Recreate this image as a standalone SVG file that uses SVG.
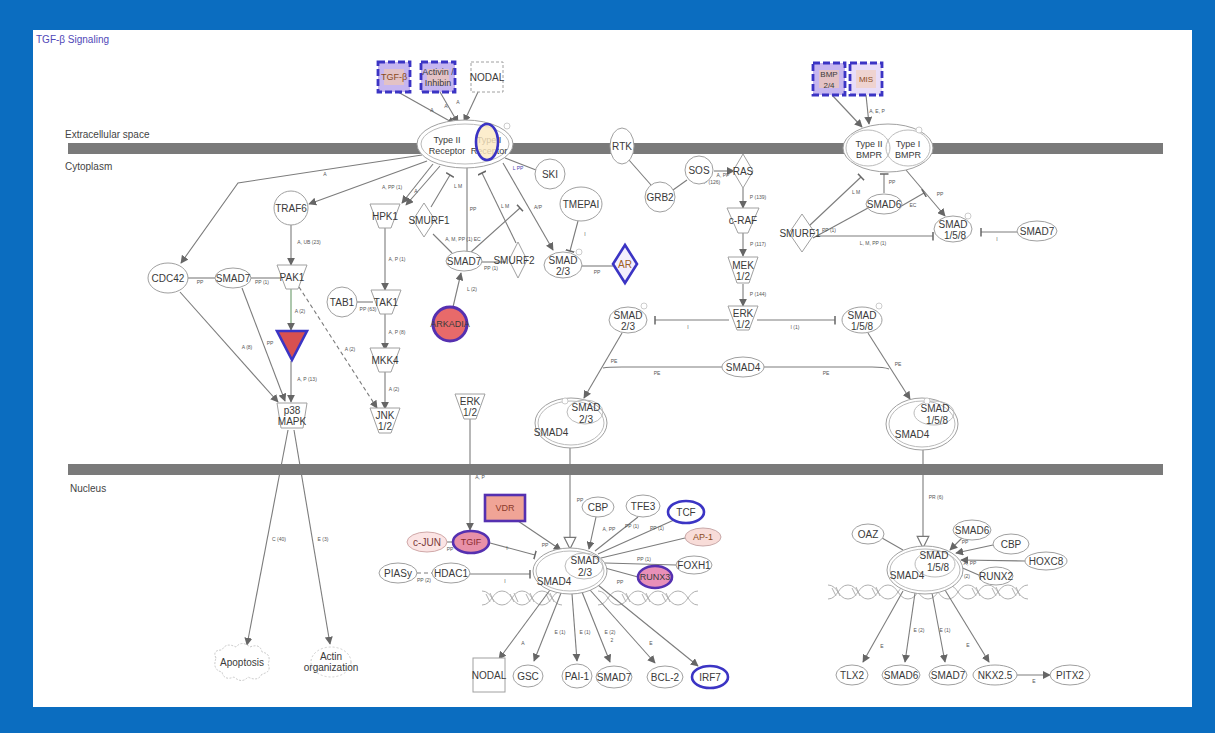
<svg xmlns="http://www.w3.org/2000/svg" width="1215" height="733" viewBox="0 0 1215 733">
<defs>
<style>
.t{font-family:"Liberation Sans","DejaVu Sans",Arial,sans-serif;font-size:10px;fill:#3a3a3a;text-anchor:middle}
.s{font-size:9px}
.l{font-family:"Liberation Sans","DejaVu Sans",Arial,sans-serif;font-size:5px;fill:#555;text-anchor:middle}
.n{fill:#fff;stroke:#a0a0a0;stroke-width:1}
.e{fill:none;stroke:#7c7c7c;stroke-width:1.1}
.a{marker-end:url(#arr)}
.b{marker-end:url(#bar)}
.o{marker-end:url(#open)}
.d{stroke-dasharray:4 3}
.hl{stroke:#3b34c4;stroke-width:2.6}
.gf{fill:#c6b6f0;stroke:#3b34c4;stroke-width:2.8;stroke-dasharray:7 3}
.hx{fill:none;stroke:#b0b0b0;stroke-width:1}
.pm{fill:#fff;stroke:#c0c0c0;stroke-width:0.8}
</style>
<marker id="arr" viewBox="0 0 10 10" refX="9" refY="5" markerWidth="8" markerHeight="8" markerUnits="userSpaceOnUse" orient="auto"><path d="M0,0L10,5L0,10z" fill="#666"/></marker>
<marker id="bar" viewBox="0 0 4 12" refX="2" refY="6" markerWidth="3" markerHeight="9" markerUnits="userSpaceOnUse" orient="auto"><rect x="1" y="0" width="2" height="12" fill="#666"/></marker>
<marker id="open" viewBox="0 0 12 12" refX="11" refY="6" markerWidth="14" markerHeight="14" markerUnits="userSpaceOnUse" orient="auto"><path d="M1,1L11,6L1,11z" fill="#fff" stroke="#777"/></marker>
</defs>

<rect width="1215" height="733" fill="#0b6dc0"/>
<rect x="33" y="30" width="1159" height="677" fill="#fff"/>
<text x="36" y="43" style="font-family:'Liberation Sans','DejaVu Sans',sans-serif;font-size:10px;fill:#5048b8">TGF-β Signaling</text>

<g id="compartments">
<rect x="68" y="143" width="1095" height="11" fill="#7a7a7a"/>
<rect x="68" y="464" width="1095" height="11" fill="#7a7a7a"/>
<text x="65" y="138" style="font-family:'Liberation Sans','DejaVu Sans',sans-serif;font-size:10px;fill:#444">Extracellular space</text>
<text x="65" y="170" style="font-family:'Liberation Sans','DejaVu Sans',sans-serif;font-size:10px;fill:#444">Cytoplasm</text>
<text x="70" y="492" style="font-family:'Liberation Sans','DejaVu Sans',sans-serif;font-size:10px;fill:#444">Nucleus</text>
</g>

<g id="dna">
<path class="hx" d="M482,591 C492,591 492,605 502,605 S512,591 522,591 S532,605 542,605 S552,591 562,591"/>
<path class="hx" d="M482,605 C492,605 492,591 502,591 S512,605 522,605 S532,591 542,591 S552,605 562,605"/>
<path class="hx" d="M486,594L490,602M490,593L494,602M510,594L514,602M514,593L518,602M526,594L530,602M530,593L534,602M546,594L550,602M550,593L554,602"/>
<path class="hx" d="M598,591 C608,591 608,605 618,605 S628,591 638,591 S648,605 658,605 S668,591 678,591 S688,605 698,605"/>
<path class="hx" d="M598,605 C608,605 608,591 618,591 S628,605 638,605 S648,591 658,591 S668,605 678,605 S688,591 698,591"/>
<path class="hx" d="M622,594L626,602M626,593L630,602M642,594L646,602M646,593L650,602M662,594L666,602M666,593L670,602"/>
<path class="hx" d="M828,585 C838,585 838,599 848,599 S858,585 868,585 S878,599 888,599 S898,585 908,585 S918,599 928,599 S938,585 948,585 S958,599 968,599 S978,585 988,585 S998,599 1008,599 S1018,585 1028,585"/>
<path class="hx" d="M828,599 C838,599 838,585 848,585 S858,599 868,599 S878,585 888,585 S898,599 908,599 S918,585 928,585 S938,599 948,599 S958,585 968,585 S978,599 988,599 S998,585 1008,585 S1018,599 1028,599"/>
<path class="hx" d="M832,588L836,596M836,587L840,596M852,588L856,596M856,587L860,596M872,588L876,596M876,587L880,596M972,588L976,596M976,587L980,596M992,588L996,596M996,587L1000,596M1012,588L1016,596M1016,587L1020,596"/>
</g>

<g id="connectors">
<path class="e a" d="M398,92 L455,124"/>
<path class="e a" d="M440,92 L458,123"/>
<path class="e a" d="M478,92 L464,122"/>
<text class="l" x="432" y="112">A</text><text class="l" x="446" y="108">A</text><text class="l" x="458" y="104">A</text>
<path class="e a" d="M422,155 L238,183 L181,263"/>
<text class="l" x="325" y="176">A</text>
<path class="e a" d="M427,161 L309,204"/>
<path class="e a" d="M433,164 L402,203"/>
<path class="e a" d="M440,166 L406,205"/>
<text class="l" x="392" y="189">A, PP (1)</text><text class="l" x="416" y="193">A</text>
<path class="e b" d="M431,207 L450,175"/>
<text class="l" x="458" y="188">L M</text>
<path class="e" d="M467,167 L467,252"/>
<text class="l" x="473" y="211">PP</text>
<path class="e" d="M433,234 L452,253"/>
<text class="l" x="463" y="241">A, M, PP (1) EC</text>
<path class="e b" d="M471,252 L520,208"/>
<path class="e b" d="M516,243 L482,173"/>
<text class="l" x="505" y="208">L M</text>
<path class="e a" d="M503,163 L553,250"/>
<text class="l" x="538" y="209">A/P</text>
<path class="e" d="M505,158 L536,170"/>
<text class="l" x="518" y="170" style="fill:#4a40b0">L PP</text>
<path class="e b" d="M578,221 L570,251"/>
<text class="l" x="585" y="236">I</text>
<path class="e" d="M582,266 L613,266"/>
<text class="l" x="597" y="274">PP</text>
<path class="e" d="M482,262 L506,262"/>
<text class="l" x="491" y="270">PP (1)</text>
<path class="e a" d="M453,307 L461,273"/>
<text class="l" x="472" y="291">L (2)</text>
<path class="e a" d="M291,225 L291,265"/>
<text class="l" x="309" y="244">A, UB (23)</text>
<path class="e" d="M188,278 L215,278"/>
<path class="e" d="M251,278 L280,278"/>
<text class="l" x="200" y="284">PP</text><text class="l" x="262" y="284">PP (1)</text>
<path class="e a" d="M291,288 L291,330" style="stroke:#6a9a6a"/>
<text class="l" x="300" y="313">A (2)</text>
<path class="e a" d="M291,361 L291,402"/>
<text class="l" x="307" y="381">A, P (13)</text>
<path class="e a" d="M180,292 L278,402"/>
<text class="l" x="247" y="349">A (8)</text>
<path class="e a" d="M242,288 L285,401"/>
<text class="l" x="270" y="345">PP</text>
<path class="e a d" d="M299,287 L377,408"/>
<text class="l" x="350" y="351">A (2)</text>
<path class="e a" d="M385,228 L385,290"/>
<text class="l" x="397" y="261">A, P (1)</text>
<path class="e" d="M357,302 L373,302"/>
<text class="l" x="368" y="311">PP (63)</text>
<path class="e a" d="M385,314 L385,350"/>
<text class="l" x="397" y="334">A, P (8)</text>
<path class="e a" d="M385,371 L385,409"/>
<text class="l" x="394" y="391">A (2)</text>
<path class="e a" d="M288,430 L247,645"/>
<text class="l" x="279" y="541">C (40)</text>
<path class="e a" d="M294,430 L330,644"/>
<text class="l" x="323" y="541">E (3)</text>
<path class="e" d="M629,160 L651,185"/>
<path class="e" d="M673,190 L687,180"/>
<path class="e a" d="M714,171 L734,171"/>
<text class="l" x="723" y="177">A, PP</text><text class="l" x="712" y="184">P (126)</text>
<path class="e a" d="M743,188 L743,208"/>
<text class="l" x="758" y="199">P (139)</text>
<path class="e a" d="M743,233 L743,256"/>
<text class="l" x="758" y="246">P (117)</text>
<path class="e a" d="M743,284 L743,306"/>
<text class="l" x="758" y="296">P (144)</text>
<path class="e b" d="M729,320 L655,320"/>
<text class="l" x="688" y="329">I</text>
<path class="e b" d="M757,320 L835,320"/>
<text class="l" x="795" y="329">I (1)</text>
<path class="e a" d="M622,333 L584,398"/>
<path class="e a" d="M868,333 L910,399"/>
<path class="e" d="M603,368 Q608,367 622,367 L722,367"/>
<path class="e" d="M764,367 L872,367 Q884,367 889,369"/>
<text class="l" x="614" y="363">PE</text><text class="l" x="657" y="375">PE</text>
<text class="l" x="826" y="375">PE</text><text class="l" x="898" y="366">PE</text>
<path class="e a" d="M832,95 L862,127"/>
<path class="e a" d="M866,95 L869,124"/>
<text class="l" x="877" y="113">A, E, P</text>
<path class="e b" d="M884,193 L884,174"/>
<text class="l" x="892" y="184">PP</text>
<path class="e a" d="M906,170 L945,216"/>
<text class="l" x="940" y="196">PP</text>
<path class="e b" d="M809,226 L861,177"/>
<path class="e" d="M813,238 L868,208"/>
<text class="l" x="856" y="194">L M</text>
<path class="e b" d="M898,208 L924,193"/>
<text class="l" x="913" y="207">EC</text>
<path class="e b" d="M816,236 L933,236"/>
<text class="l" x="829" y="232">PP (1)</text><text class="l" x="873" y="245">L, M, PP (1)</text>
<path class="e b" d="M1018,232 L981,232"/>
<text class="l" x="997" y="241">I</text>
<path class="e o" d="M570,448 L570,549"/>
<path class="e o" d="M923,449 L923,548"/>
<text class="l" x="936" y="499">PR (6)</text>
<path class="e a" d="M470,419 L470,530"/>
<text class="l" x="480" y="479">A, P</text>
<path class="e a" d="M518,521 L561,550"/>
<text class="l" x="545" y="547">PP</text>
<path class="e a" d="M596,517 L589,549"/>
<text class="l" x="580" y="502">PP</text>
<path class="e" d="M638,517 L595,551"/>
<path class="e" d="M674,520 L598,554"/>
<path class="e" d="M685,538 L601,558"/>
<path class="e" d="M676,565 L605,563"/>
<path class="e" d="M638,577 L605,568"/>
<text class="l" x="609" y="531">A, PP</text><text class="l" x="632" y="528">PP (1)</text><text class="l" x="657" y="530">PP (1)</text>
<text class="l" x="644" y="561">PP (1)</text><text class="l" x="620" y="584">PP</text>
<path class="e b" d="M490,543 L535,555"/>
<text class="l" x="507" y="550">I</text>
<path class="e b" d="M470,574 L530,574"/>
<text class="l" x="505" y="583">I</text>
<path class="e" d="M447,542 L453,542"/>
<text class="l" x="450" y="551">PP</text>
<path class="e d" d="M417,573 L432,573"/>
<text class="l" x="424" y="582">PP (2)</text>
<path class="e a" d="M550,590 L499,659"/>
<path class="e a" d="M561,593 L534,661"/>
<path class="e a" d="M572,594 L577,661"/>
<path class="e a" d="M582,592 L610,662"/>
<path class="e a" d="M590,590 L655,663"/>
<path class="e a" d="M598,585 L698,666"/>
<text class="l" x="523" y="645">A</text><text class="l" x="560" y="634">E (1)</text><text class="l" x="585" y="634">E (1)</text>
<text class="l" x="610" y="634">E (2)</text><text class="l" x="612" y="642">2</text><text class="l" x="651" y="645">E</text>
<path class="e" d="M882,538 L903,550"/>
<path class="e a" d="M963,537 L950,550"/>
<text class="l" x="965" y="544">PP</text>
<path class="e a" d="M993,545 L956,553"/>
<path class="e a" d="M1025,561 L961,560"/>
<text class="l" x="970" y="565">A, PP</text>
<path class="e" d="M981,576 L958,566"/>
<text class="l" x="963" y="578">PP (2)</text>
<path class="e a" d="M903,591 L863,662"/>
<path class="e a" d="M915,593 L905,662"/>
<path class="e a" d="M932,593 L945,662"/>
<path class="e a" d="M945,590 L989,662"/>
<text class="l" x="882" y="648">E</text><text class="l" x="919" y="632">E (2)</text><text class="l" x="945" y="632">E (1)</text><text class="l" x="968" y="647">E</text>
<path class="e a" d="M1017,675 L1050,675"/>
<text class="l" x="1034" y="683">E</text>
</g>

<g id="n-tgfb" transform="translate(394,77)"><rect x="-16" y="-15" width="32" height="30" class="gf"/><rect x="-10" y="-8" width="20" height="16" fill="#f6c9a8" opacity="0.6"/><text class="t s" y="3" style="fill:#8a4a20">TGF-β</text></g>
<g id="n-activin" transform="translate(438,77)"><rect x="-17" y="-15" width="34" height="30" class="gf"/><rect x="-11" y="-8" width="22" height="16" fill="#f6c9a8" opacity="0.6"/><text class="t s" y="-2">Activin /</text><text class="t s" y="9">Inhibin</text></g>
<g id="n-nodal-top" transform="translate(487,77)"><rect x="-16" y="-15" width="32" height="30" class="n" stroke-dasharray="3 2"/><text class="t" y="4">NODAL</text></g>
<g id="n-bmp24" transform="translate(829,79)"><rect x="-16" y="-16" width="32" height="32" class="gf"/><rect x="-10" y="-9" width="20" height="18" fill="#f6c9a8" opacity="0.6"/><text class="t" y="-2" style="font-size:8px">BMP</text><text class="t" y="9" style="font-size:8px">2/4</text></g>
<g id="n-mis" transform="translate(866,79)"><rect x="-16" y="-16" width="32" height="32" class="gf" style="fill:#e8ddf8"/><rect x="-10" y="-9" width="20" height="18" fill="#f6c9a8" opacity="0.5"/><text class="t" y="3" style="font-size:8px;fill:#8a4a20">MIS</text></g>

<g id="n-receptor" transform="translate(465,144)">
<ellipse rx="48" ry="24" class="n"/><ellipse rx="44" ry="20" fill="none" stroke="#bbb"/>
<text class="t s" x="-18" y="-1">Type II</text><text class="t s" x="-18" y="10">Receptor</text>
<text class="t s" x="24" y="-1">Type I</text><text class="t s" x="24" y="10">Receptor</text>
<ellipse cx="22" cy="-2" rx="11" ry="18" fill="#fbe9c0" fill-opacity="0.8" class="hl"/>
<circle cx="42" cy="-18" r="3" class="pm"/>
</g>
<g id="n-rtk" transform="translate(622,146)"><ellipse rx="12" ry="18" class="n"/><text class="t" y="4">RTK</text></g>
<g id="n-bmpr" transform="translate(888,148)">
<ellipse rx="45" ry="24" class="n"/><ellipse cx="-20" rx="22" ry="18" fill="none" stroke="#bbb"/><ellipse cx="20" rx="22" ry="18" fill="none" stroke="#bbb"/>
<text class="t s" x="-19" y="-1">Type II</text><text class="t s" x="-19" y="10">BMPR</text>
<text class="t s" x="20" y="-1">Type I</text><text class="t s" x="20" y="10">BMPR</text>
<circle cx="31" cy="-18" r="3" class="pm"/>
</g>

<g id="n-ski" transform="translate(550,174)"><circle r="15" class="n"/><text class="t" y="4">SKI</text></g>
<g id="n-tmepai" transform="translate(581,204)"><ellipse rx="21" ry="17" class="n"/><text class="t" y="4">TMEPAI</text></g>
<g id="n-grb2" transform="translate(660,197)"><circle r="15" class="n"/><text class="t" y="4">GRB2</text></g>
<g id="n-sos" transform="translate(699,170)"><circle r="14" class="n"/><text class="t" y="4">SOS</text></g>
<g id="n-ras" transform="translate(743,171)"><path d="M0,-17L10,0L0,17L-10,0Z" class="n"/><text class="t" y="4">RAS</text></g>
<g id="n-craf" transform="translate(743,220)"><path d="M-16,-12H16L5,13H-5Z" class="n"/><text class="t" y="4">c-RAF</text></g>
<g id="n-mek" transform="translate(743,270)"><path d="M-15,-13H15L6,13H-6Z" class="n"/><text class="t" y="-1">MEK</text><text class="t" y="10">1/2</text></g>
<g id="n-erk" transform="translate(743,318)"><path d="M-15,-12H15L6,12H-6Z" class="n"/><text class="t" y="-1">ERK</text><text class="t" y="10">1/2</text></g>
<g id="n-smad23-mid" transform="translate(628,320)"><ellipse rx="19" ry="13" class="n"/><text class="t" y="-1">SMAD</text><text class="t" y="10">2/3</text><circle cx="16" cy="-14" r="3" class="pm"/></g>
<g id="n-smad158-mid" transform="translate(862,320)"><ellipse rx="20" ry="13" class="n"/><text class="t" y="-1">SMAD</text><text class="t" y="10">1/5/8</text><circle cx="17" cy="-14" r="3" class="pm"/></g>
<g id="n-smad4" transform="translate(743,367)"><ellipse rx="21" ry="10" class="n"/><text class="t" y="4">SMAD4</text></g>
<g id="n-cx23" transform="translate(571,423)">
<ellipse rx="36" ry="25" class="n"/><ellipse rx="33" ry="22" fill="none" stroke="#bbb"/><ellipse cx="14" cy="-11" rx="18" ry="12" fill="none" stroke="#bbb"/>
<text class="t" x="15" y="-12">SMAD</text><text class="t" x="15" y="0">2/3</text><text class="t" x="-20" y="13">SMAD4</text><circle cx="-6" cy="-22" r="3" class="pm"/>
</g>
<g id="n-cx158" transform="translate(922,424)">
<ellipse rx="36" ry="26" class="n"/><ellipse rx="33" ry="23" fill="none" stroke="#bbb"/><ellipse cx="12" cy="-11" rx="20" ry="12" fill="none" stroke="#bbb"/>
<text class="t" x="13" y="-12">SMAD</text><text class="t" x="15" y="0">1/5/8</text><text class="t" x="-10" y="14">SMAD4</text><circle cx="5" cy="-23" r="3" class="pm"/>
</g>
<g id="n-smad6-cyto" transform="translate(884,204)"><ellipse rx="18" ry="10" class="n"/><text class="t" y="4">SMAD6</text></g>
<g id="n-smurf1-r" transform="translate(802,233)"><path d="M0,-19L13,0L0,19L-13,0Z" class="n"/><text class="t" x="-2" y="4">SMURF1</text></g>
<g id="n-smad158-cyto" transform="translate(953,229)"><ellipse rx="19" ry="13" class="n"/><text class="t" y="-1">SMAD</text><text class="t" x="2" y="10">1/5/8</text><circle cx="15" cy="-13" r="3" class="pm"/></g>
<g id="n-smad7-r" transform="translate(1037,231)"><ellipse rx="20" ry="10" class="n"/><text class="t" y="4">SMAD7</text></g>
<g id="n-traf6" transform="translate(291,208)"><circle r="17" class="n"/><text class="t" y="4">TRAF6</text></g>
<g id="n-hpk1" transform="translate(385,216)"><path d="M-15,-12H15L6,12H-6Z" class="n"/><text class="t" y="4">HPK1</text></g>
<g id="n-smurf1-l" transform="translate(424,220)"><path d="M0,-17L11,0L0,17L-11,0Z" class="n"/><text class="t" x="5" y="4">SMURF1</text></g>
<g id="n-cdc42" transform="translate(168,278)"><ellipse rx="20" ry="15" class="n"/><text class="t" y="4">CDC42</text></g>
<g id="n-smad7-l" transform="translate(233,278)"><ellipse rx="18" ry="10" class="n"/><text class="t" y="4">SMAD7</text></g>
<g id="n-pak1" transform="translate(292,277)"><path d="M-15,-12H15L6,12H-6Z" class="n"/><text class="t" y="4">PAK1</text></g>
<g id="n-tab1" transform="translate(342,302)"><circle r="15" class="n"/><text class="t" y="4">TAB1</text></g>
<g id="n-tak1" transform="translate(386,302)"><path d="M-15,-12H15L6,12H-6Z" class="n"/><text class="t" y="4">TAK1</text></g>
<g id="n-mkk36" transform="translate(292,344)"><path d="M-15,-13H15L0,16Z" fill="#d85050" class="hl"/></g>
<g id="n-arkadia" transform="translate(450,324)"><circle r="17" fill="#e86a6a" stroke="#5530b0" stroke-width="3"/><text class="t s" y="3">ARKADIA</text></g>
<g id="n-smad7-c" transform="translate(464,261)"><ellipse rx="18" ry="10" class="n"/><text class="t" y="4">SMAD7</text></g>
<g id="n-smurf2" transform="translate(518,260)"><path d="M0,-18L9,0L0,18L-9,0Z" class="n"/><text class="t" x="-4" y="4">SMURF2</text></g>
<g id="n-smad23-c" transform="translate(563,265)"><ellipse rx="19" ry="13" class="n"/><text class="t" y="-1">SMAD</text><text class="t" y="10">2/3</text><circle cx="16" cy="-13" r="3" class="pm"/></g>
<g id="n-ar" transform="translate(625,264)"><path d="M0,-19L12,0L0,19L-12,0Z" fill="#f3eefc" class="hl"/><text class="t" y="4" style="fill:#a0601f">AR</text></g>
<g id="n-mkk4" transform="translate(385,360)"><path d="M-15,-12H15L6,12H-6Z" class="n"/><text class="t" y="4">MKK4</text></g>
<g id="n-p38" transform="translate(292,415)"><path d="M-15,-12H15L11,13H-11Z" class="n"/><text class="t" y="-1">p38</text><text class="t" y="10">MAPK</text></g>
<g id="n-jnk" transform="translate(385,420)"><path d="M-15,-12H15L6,13H-6Z" class="n"/><text class="t" y="-1">JNK</text><text class="t" y="10">1/2</text></g>
<g id="n-erk-low" transform="translate(470,406)"><path d="M-15,-12H15L6,13H-6Z" class="n"/><text class="t" y="-1">ERK</text><text class="t" y="10">1/2</text></g>
<g id="n-apoptosis" transform="translate(242,662)"><path d="M-26,-4 Q-30,-12 -20,-12 Q-16,-20 -6,-15 Q0,-22 8,-15 Q18,-19 20,-10 Q30,-8 26,2 Q30,10 20,12 Q16,20 6,15 Q0,22 -8,15 Q-18,19 -20,10 Q-30,8 -26,-4Z" fill="#fff" stroke="#c8c8c8" stroke-dasharray="2 1.5"/><text class="t" y="4">Apoptosis</text></g>
<g id="n-actin" transform="translate(331,662)"><ellipse rx="20" ry="15" fill="#fff" stroke="#d0d0d0" stroke-dasharray="2 2"/><text class="t" y="-2">Actin</text><text class="t" y="9">organization</text></g>

<g id="n-vdr" transform="translate(505,508)"><rect x="-20" y="-13" width="40" height="26" fill="#f0a496" stroke="#5530b0" stroke-width="2.6"/><text class="t s" y="3" style="fill:#8a3a2a">VDR</text></g>
<g id="n-cbp-l" transform="translate(598,507)"><ellipse rx="16" ry="10" class="n"/><text class="t" y="4">CBP</text></g>
<g id="n-tfe3" transform="translate(643,506)"><ellipse rx="17" ry="11" class="n"/><text class="t" y="4">TFE3</text></g>
<g id="n-tcf" transform="translate(686,512)"><ellipse rx="18" ry="11" fill="#fff" class="hl"/><text class="t" y="4">TCF</text></g>
<g id="n-ap1" transform="translate(703,537)"><ellipse rx="18" ry="9" fill="#f8dcd8" stroke="#c8a8a8"/><text class="t s" y="3" style="fill:#8a4a20">AP-1</text></g>
<g id="n-foxh1" transform="translate(694,565)"><ellipse rx="18" ry="9" class="n"/><text class="t" y="4">FOXH1</text></g>
<g id="n-runx3" transform="translate(655,577)"><ellipse rx="17" ry="11" fill="#e890b8" stroke="#5530b0" stroke-width="2.6"/><text class="t s" y="3">RUNX3</text></g>
<g id="n-cjun" transform="translate(427,542)"><ellipse rx="20" ry="10" fill="#fbe4e4" stroke="#d0a8a8"/><text class="t" y="4" style="fill:#7a3a3a">c-JUN</text></g>
<g id="n-tgif" transform="translate(471,542)"><ellipse rx="18" ry="11" fill="#e890a8" stroke="#5530b0" stroke-width="2.6"/><text class="t s" y="3" style="fill:#8a2a2a">TGIF</text></g>
<g id="n-piasy" transform="translate(398,573)"><ellipse rx="19" ry="10" class="n"/><text class="t" y="4">PIASy</text></g>
<g id="n-hdac1" transform="translate(451,573)"><ellipse rx="19" ry="10" class="n"/><text class="t" y="4">HDAC1</text></g>
<g id="n-ncx23" transform="translate(570,571)">
<ellipse rx="37" ry="23" class="n"/><ellipse rx="34" ry="20" fill="none" stroke="#bbb"/><ellipse cx="14" cy="-5" rx="19" ry="13" fill="none" stroke="#bbb"/>
<text class="t" x="15" y="-7">SMAD</text><text class="t" x="15" y="5">2/3</text><text class="t" x="-16" y="14">SMAD4</text>
</g>
<g id="n-nodal-b" transform="translate(489,675)"><rect x="-16" y="-17" width="32" height="34" class="n"/><text class="t" y="4">NODAL</text></g>
<g id="n-gsc" transform="translate(528,676)"><ellipse rx="15" ry="11" class="n"/><text class="t" y="4">GSC</text></g>
<g id="n-pai1" transform="translate(577,676)"><ellipse rx="15" ry="12" class="n"/><text class="t" y="4">PAI-1</text></g>
<g id="n-smad7-n" transform="translate(614,677)"><ellipse rx="18" ry="11" class="n"/><text class="t" y="4">SMAD7</text></g>
<g id="n-bcl2" transform="translate(665,677)"><ellipse rx="18" ry="11" class="n"/><text class="t" y="4">BCL-2</text></g>
<g id="n-irf7" transform="translate(710,677)"><ellipse rx="18" ry="11" fill="#fff" class="hl"/><text class="t" y="4">IRF7</text></g>
<g id="n-oaz" transform="translate(868,534)"><ellipse rx="16" ry="10" class="n"/><text class="t" y="4">OAZ</text></g>
<g id="n-smad6-n" transform="translate(972,530)"><ellipse rx="19" ry="10" class="n"/><text class="t" y="4">SMAD6</text></g>
<g id="n-cbp-r" transform="translate(1011,544)"><ellipse rx="18" ry="10" class="n"/><text class="t" y="4">CBP</text></g>
<g id="n-hoxc8" transform="translate(1046,561)"><ellipse rx="21" ry="9" class="n"/><text class="t" y="4">HOXC8</text></g>
<g id="n-runx2" transform="translate(996,576)"><ellipse rx="17" ry="9" class="n"/><text class="t" y="4">RUNX2</text></g>
<g id="n-ncx158" transform="translate(925,570)">
<ellipse rx="38" ry="24" class="n"/><ellipse rx="35" ry="21" fill="none" stroke="#bbb"/><ellipse cx="10" cy="-6" rx="20" ry="13" fill="none" stroke="#bbb"/>
<text class="t" x="9" y="-11">SMAD</text><text class="t" x="13" y="1">1/5/8</text><text class="t" x="-18" y="9">SMAD4</text>
</g>
<g id="n-tlx2" transform="translate(852,675)"><ellipse rx="16" ry="10" class="n"/><text class="t" y="4">TLX2</text></g>
<g id="n-smad6-b" transform="translate(901,675)"><ellipse rx="19" ry="10" class="n"/><text class="t" y="4">SMAD6</text></g>
<g id="n-smad7-b" transform="translate(948,675)"><ellipse rx="19" ry="10" class="n"/><text class="t" y="4">SMAD7</text></g>
<g id="n-nkx25" transform="translate(995,675)"><ellipse rx="22" ry="10" class="n"/><text class="t" y="4">NKX2.5</text></g>
<g id="n-pitx2" transform="translate(1070,675)"><ellipse rx="20" ry="10" class="n"/><text class="t" y="4">PITX2</text></g>
</svg>
